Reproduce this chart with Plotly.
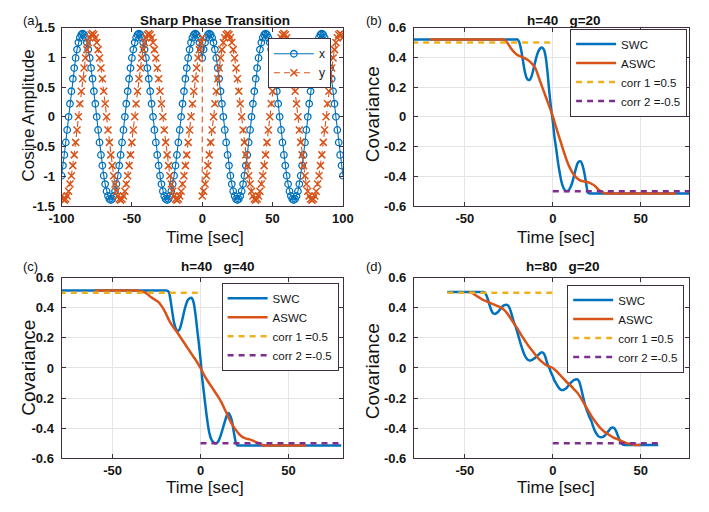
import plotly.graph_objects as go

FONT = "Liberation Sans, Arial, Helvetica, sans-serif"
AXC = "#3f2d40"
BLUE = "#0072BD"
RED = "#D95319"
YEL = "#EDB120"
PUR = "#7E2F8E"

# ---------------- Panel (a): cosine signals ----------------
t_x = list(range(-100, 101))
x_amp = [
    -0.99, -0.82, -0.64, -0.43, -0.22, 0.00, 0.22, 0.43, 0.64, 0.82, 0.99, 1.13, 1.25, 1.33, 1.38,
    1.40, 1.38, 1.33, 1.25, 1.13, 0.99, 0.82, 0.64, 0.43, 0.22, 0.00, -0.22, -0.43, -0.64, -0.82, -0.99, -1.13, -1.25, -1.33, -1.38,
    -1.40, -1.38, -1.33, -1.25, -1.13, -0.99, -0.82, -0.64, -0.43, -0.22, 0.00, 0.22, 0.43, 0.64, 0.82, 0.99, 1.13, 1.25, 1.33, 1.38,
    1.40, 1.38, 1.33, 1.25, 1.13, 0.99, 0.82, 0.64, 0.43, 0.22, 0.00, -0.22, -0.43, -0.64, -0.82, -0.99, -1.13, -1.25, -1.33, -1.38,
    -1.40, -1.38, -1.33, -1.25, -1.13, -0.99, -0.82, -0.64, -0.43, -0.22, 0.00, 0.22, 0.43, 0.64, 0.82, 0.99, 1.13, 1.25, 1.33, 1.38,
    1.40, 1.38, 1.33, 1.25, 1.13, 0.99,
    1.13, 1.25, 1.33, 1.38,
    1.40, 1.38, 1.33, 1.25, 1.13, 0.99, 0.82, 0.64, 0.43, 0.22, 0.00, -0.22, -0.43, -0.64, -0.82, -0.99, -1.13, -1.25, -1.33, -1.38,
    -1.40, -1.38, -1.33, -1.25, -1.13, -0.99, -0.82, -0.64, -0.43, -0.22, 0.00, 0.22, 0.43, 0.64, 0.82, 0.99, 1.13, 1.25, 1.33, 1.38,
    1.40, 1.38, 1.33, 1.25, 1.13, 0.99, 0.82, 0.64, 0.43, 0.22, 0.00, -0.22, -0.43, -0.64, -0.82, -0.99, -1.13, -1.25, -1.33, -1.38,
    -1.40, -1.38, -1.33, -1.25, -1.13, -0.99, -0.82, -0.64, -0.43, -0.22, 0.00, 0.22, 0.43, 0.64, 0.82, 0.99, 1.13, 1.25, 1.33, 1.38,
    1.40, 1.38, 1.33, 1.25, 1.13, 0.99, 0.82, 0.64, 0.43, 0.22, 0.00, -0.22, -0.43, -0.64, -0.82, -0.99,
]
t_y = list(range(-100, 1)) + list(range(0, 101))
y_amp = [
    -1.33, -1.38, -1.40, -1.38, -1.33, -1.25, -1.13, -0.99, -0.82, -0.64, -0.43, -0.22, 0.00, 0.22, 0.43, 0.64, 0.82, 0.99, 1.13, 1.25, 1.33, 1.38,
    1.40, 1.38, 1.33, 1.25, 1.13, 0.99, 0.82, 0.64, 0.43, 0.22, 0.00, -0.22, -0.43, -0.64, -0.82, -0.99, -1.13, -1.25, -1.33, -1.38,
    -1.40, -1.38, -1.33, -1.25, -1.13, -0.99, -0.82, -0.64, -0.43, -0.22, 0.00, 0.22, 0.43, 0.64, 0.82, 0.99, 1.13, 1.25, 1.33, 1.38,
    1.40, 1.38, 1.33, 1.25, 1.13, 0.99, 0.82, 0.64, 0.43, 0.22, 0.00, -0.22, -0.43, -0.64, -0.82, -0.99, -1.13, -1.25, -1.33, -1.38,
    -1.40, -1.38, -1.33, -1.25, -1.13, -0.99, -0.82, -0.64, -0.43, -0.22, 0.00, 0.22, 0.43, 0.64, 0.82, 0.99, 1.13, 1.25, 1.33,
    -1.33, -1.25, -1.13, -0.99, -0.82, -0.64, -0.43, -0.22, 0.00, 0.22, 0.43, 0.64, 0.82, 0.99, 1.13, 1.25, 1.33, 1.38,
    1.40, 1.38, 1.33, 1.25, 1.13, 0.99, 0.82, 0.64, 0.43, 0.22, 0.00, -0.22, -0.43, -0.64, -0.82, -0.99, -1.13, -1.25, -1.33, -1.38,
    -1.40, -1.38, -1.33, -1.25, -1.13, -0.99, -0.82, -0.64, -0.43, -0.22, 0.00, 0.22, 0.43, 0.64, 0.82, 0.99, 1.13, 1.25, 1.33, 1.38,
    1.40, 1.38, 1.33, 1.25, 1.13, 0.99, 0.82, 0.64, 0.43, 0.22, 0.00, -0.22, -0.43, -0.64, -0.82, -0.99, -1.13, -1.25, -1.33, -1.38,
    -1.40, -1.38, -1.33, -1.25, -1.13, -0.99, -0.82, -0.64, -0.43, -0.22, 0.00, 0.22, 0.43, 0.64, 0.82, 0.99, 1.13, 1.25, 1.33, 1.38,
    1.40, 1.38, 1.33,
]
assert len(t_x) == len(x_amp), (len(t_x), len(x_amp))
assert len(t_y) == len(y_amp), (len(t_y), len(y_amp))

# ---------------- Panel (b): h=40 g=20 ----------------
b_swc_t = [-80, -22] + list(range(-20, 22)) + [23, 80]
b_swc = [0.52, 0.52,
         0.52, 0.50, 0.45, 0.38, 0.31, 0.265, 0.248, 0.25, 0.275, 0.32,
         0.37, 0.415, 0.445, 0.462, 0.465, 0.45, 0.40, 0.30, 0.17, 0.06,
         -0.03, -0.14, -0.22, -0.31, -0.38, -0.44, -0.475, -0.495, -0.50, -0.495,
         -0.475, -0.445, -0.40, -0.355, -0.315, -0.30, -0.30, -0.33, -0.38, -0.45,
         -0.51, -0.515,
         -0.515, -0.515]
b_aswc_t = [-70, -30] + list(range(-28, 31, 2)) + [32, 70]
b_aswc = [0.52, 0.52,
          0.52, 0.50, 0.465, 0.435, 0.415, 0.405, 0.395, 0.38, 0.36, 0.33,
          0.265, 0.20, 0.135, 0.07, 0.005, -0.075, -0.15, -0.225, -0.295, -0.35,
          -0.39, -0.415, -0.43, -0.435, -0.44, -0.45, -0.465, -0.49, -0.505, -0.515,
          -0.515, -0.515]

# ---------------- Panel (c): h=40 g=40 ----------------
c_swc_t = [-80, -21] + list(range(-19, 22)) + [23, 80]
c_swc = [0.515, 0.515,
         0.515, 0.505, 0.45, 0.37, 0.30, 0.26, 0.245, 0.255, 0.29, 0.34,
         0.39, 0.43, 0.455, 0.465, 0.467, 0.44, 0.37, 0.27, 0.17, 0.06,
         -0.07, -0.17, -0.27, -0.36, -0.43, -0.47, -0.49, -0.50, -0.50, -0.49,
         -0.465, -0.43, -0.39, -0.35, -0.315, -0.30, -0.32, -0.36, -0.43, -0.49,
         -0.515,
         -0.515, -0.515]
c_aswc_t = [-60] + list(range(-38, 39, 2)) + [60]
c_aswc = [0.515,
          0.515, 0.515, 0.51, 0.505, 0.49, 0.47, 0.455, 0.44, 0.41, 0.37,
          0.32, 0.28, 0.25, 0.215, 0.18, 0.145, 0.11, 0.075, 0.04, 0.0,
          -0.045, -0.085, -0.12, -0.155, -0.19, -0.23, -0.28, -0.33, -0.375, -0.41,
          -0.44, -0.46, -0.47, -0.475, -0.485, -0.495, -0.505, -0.515, -0.515,
          -0.515]

# ---------------- Panel (d): h=80 g=20 ----------------
d_swc_t = [-60, -41] + list(range(-39, 42)) + [43, 60]
d_swc = [0.505, 0.505,
         0.505, 0.49, 0.46, 0.42, 0.385, 0.365, 0.36, 0.365, 0.375, 0.39,
         0.405, 0.415, 0.42, 0.42, 0.41, 0.38, 0.34, 0.30, 0.27, 0.23,
         0.19, 0.15, 0.115, 0.085, 0.065, 0.053, 0.05, 0.052, 0.06, 0.068,
         0.08, 0.09, 0.10, 0.104, 0.095, 0.065, 0.025, 0.0, -0.03, -0.055,
         -0.085, -0.105, -0.125, -0.14, -0.146, -0.146, -0.14, -0.13, -0.115, -0.10,
         -0.09, -0.08, -0.076, -0.076, -0.09, -0.13, -0.18, -0.23, -0.27, -0.30,
         -0.33, -0.355, -0.39, -0.42, -0.44, -0.455, -0.46, -0.46, -0.455, -0.445,
         -0.43, -0.415, -0.40, -0.396, -0.40, -0.42, -0.45, -0.48, -0.50, -0.51,
         -0.512,
         -0.512, -0.512]
d_aswc_t = list(range(-48, 51, 2))
d_aswc = [0.505, 0.50, 0.485, 0.47, 0.455, 0.445, 0.435, 0.425, 0.415, 0.405,
          0.39, 0.365, 0.33, 0.295, 0.26, 0.22, 0.185, 0.15, 0.12, 0.09,
          0.06, 0.04, 0.02, 0.01, 0.0,
          -0.02, -0.045, -0.07, -0.095, -0.115, -0.14, -0.165, -0.20, -0.24, -0.28,
          -0.32, -0.355, -0.385, -0.41, -0.43, -0.445, -0.46, -0.47, -0.48, -0.49,
          -0.50, -0.505, -0.51, -0.512, -0.512]

for a, b in [(b_swc_t, b_swc), (b_aswc_t, b_aswc), (c_swc_t, c_swc), (c_aswc_t, c_aswc),
             (d_swc_t, d_swc), (d_aswc_t, d_aswc)]:
    assert len(a) == len(b), (len(a), len(b))

# reference correlation levels
corr1_val = [0.5, 0.5]
corr2_val = [-0.5, -0.5]
bc_corr1_t = [-80, 0]
bc_corr2_t = [0, 80]
d_corr1_t = [-60, 0]
d_corr2_t = [0, 60]

# ticks
a_xticks = [-100, -50, 0, 50, 100]
a_xtext = ["-100", "-50", "0", "50", "100"]
a_yticks = [-1.5, -1, -0.5, 0, 0.5, 1, 1.5]
a_ytext = ["-1.5", "-1", "-0.5", "0", "0.5", "1", "1.5"]
cov_xticks = [-50, 0, 50]
cov_xtext = ["-50", "0", "50"]
cov_yticks = [-0.6, -0.4, -0.2, 0, 0.2, 0.4, 0.6]
cov_ytext = ["-0.6", "-0.4", "-0.2", "0", "0.2", "0.4", "0.6"]

# The page body keeps an 8px margin, so the figure is 16px smaller than the window
# and every window pixel position is shifted by 8px.
FW, FH = 693, 496
OFF = 8


def PX(p):
    return (p - OFF) / FW


def PY(p):
    return 1 - (p - OFF) / FH


fig = go.Figure()

# panel (a)
fig.add_trace(go.Scatter(x=t_x, y=x_amp, name="x", mode="lines+markers",
                         line=dict(color=BLUE, width=1.1),
                         marker=dict(symbol="circle-open", size=6.5, color=BLUE, line=dict(width=1.3)),
                         xaxis="x", yaxis="y", legend="legend"))
fig.add_trace(go.Scatter(x=t_y, y=y_amp, name="y", mode="lines+markers",
                         line=dict(color=RED, width=1.1, dash="6px,4px"),
                         marker=dict(symbol="x-thin-open", size=7, color=RED, line=dict(width=1.5, color=RED)),
                         xaxis="x", yaxis="y", legend="legend"))


def cov_panel(xa, ya, lg, swc_t, swc, aswc_t, aswc, c1_t, c2_t):
    fig.add_trace(go.Scatter(x=swc_t, y=swc, name="SWC", mode="lines",
                             line=dict(color=BLUE, width=2.5, shape="spline", smoothing=0.8),
                             xaxis=xa, yaxis=ya, legend=lg))
    fig.add_trace(go.Scatter(x=aswc_t, y=aswc, name="ASWC", mode="lines",
                             line=dict(color=RED, width=2.5, shape="spline", smoothing=0.8),
                             xaxis=xa, yaxis=ya, legend=lg))
    fig.add_trace(go.Scatter(x=c1_t, y=corr1_val, name="corr 1 =0.5", mode="lines",
                             line=dict(color=YEL, width=2.5, dash="6px,5px"),
                             xaxis=xa, yaxis=ya, legend=lg))
    fig.add_trace(go.Scatter(x=c2_t, y=corr2_val, name="corr 2 =-0.5", mode="lines",
                             line=dict(color=PUR, width=2.5, dash="6px,5px"),
                             xaxis=xa, yaxis=ya, legend=lg))


cov_panel("x2", "y2", "legend2", b_swc_t, b_swc, b_aswc_t, b_aswc, bc_corr1_t, bc_corr2_t)
cov_panel("x3", "y3", "legend3", c_swc_t, c_swc, c_aswc_t, c_aswc, bc_corr1_t, bc_corr2_t)
cov_panel("x4", "y4", "legend4", d_swc_t, d_swc, d_aswc_t, d_aswc, d_corr1_t, d_corr2_t)

top_dom = [PY(205), PY(21)]
bot_dom = [PY(465), PY(279)]
left_dom = [PX(50), PX(341.5)]
right_dom = [PX(415), 692 / FW]


def axis(domain, rng, tv, tt, grid, anchor, standoff):
    return dict(domain=domain, range=rng, tickvals=tv, ticktext=tt, showgrid=grid,
                gridcolor="#e4e4e4", gridwidth=1, zeroline=False, showline=True,
                linecolor=AXC, linewidth=1, mirror="ticks", ticks="inside", ticklen=4,
                tickcolor=AXC, tickwidth=1, anchor=anchor, fixedrange=True,
                ticklabelstandoff=standoff,
                tickfont=dict(family=FONT, size=13, color="#151515", weight="bold"))


LR = [-79, 81]
RR = [-79, 77.5]
CY = [-0.6, 0.6]
fig.update_layout(
    width=FW, height=FH, autosize=False,
    margin=dict(l=0, r=0, t=0, b=0),
    paper_bgcolor="white", plot_bgcolor="white",
    font=dict(family=FONT, color="#151515"),
    xaxis=axis(left_dom, [-100, 100], a_xticks, a_xtext, False, "y", 0),
    yaxis=axis(top_dom, [-1.5, 1.5], a_yticks, a_ytext, False, "x", 3),
    xaxis2=axis(right_dom, RR, cov_xticks, cov_xtext, True, "y2", 0),
    yaxis2=axis(top_dom, CY, cov_yticks, cov_ytext, True, "x2", 4),
    xaxis3=axis(left_dom, LR, cov_xticks, cov_xtext, True, "y3", 0),
    yaxis3=axis(bot_dom, CY, cov_yticks, cov_ytext, True, "x3", 4),
    xaxis4=axis(right_dom, RR, cov_xticks, cov_xtext, True, "y4", 0),
    yaxis4=axis(bot_dom, CY, cov_yticks, cov_ytext, True, "x4", 4),
    showlegend=True,
)

leg_common = dict(xanchor="right", yanchor="top", bgcolor="white", bordercolor=AXC,
                  borderwidth=1, itemwidth=40, tracegroupgap=0,
                  font=dict(family=FONT, size=11.5, color="#151515"))
fig.update_layout(
    legend=dict(x=PX(329), y=PY(32), **{**leg_common, "font": dict(family=FONT, size=12, color="#151515")}),
    legend2=dict(x=PX(698), y=PY(22), **leg_common),
    legend3=dict(x=PX(337), y=PY(284), **leg_common),
    legend4=dict(x=PX(695), y=PY(286), **leg_common),
)

ann = []


def txt(x, y, s, size, bold=False, angle=0, xanchor="center"):
    ann.append(dict(x=PX(x), y=PY(y), xref="paper", yref="paper", text=s, showarrow=False,
                    textangle=angle, xanchor=xanchor, yanchor="middle",
                    font=dict(family=FONT, size=size, color="#111111", weight="bold" if bold else "normal")))


# panel letters
txt(8, 13.5, "(a)", 13, xanchor="left")
txt(363, 13.5, "(b)", 13, xanchor="left")
txt(8, 267, "(c)", 13, xanchor="left")
txt(363, 267, "(d)", 13, xanchor="left")
# titles
sp = "\u00a0\u00a0\u00a0"
txt(209, 14, "Sharp Phase Transition", 13.5, bold=True)
txt(570, 14, "h=40" + sp + "g=20", 13.5, bold=True)
txt(212, 267, "h=40" + sp + "g=40", 13.5, bold=True)
txt(569, 267, "h=80" + sp + "g=20", 13.5, bold=True)
# axis titles
txt(199, 237, "Time [sec]", 17)
txt(562, 237, "Time [sec]", 17)
txt(199, 495, "Time [sec]", 17)
txt(562, 495, "Time [sec]", 17)
txt(16, 112, "Cosine Amplitude", 17, angle=-90)
txt(373, 110, "Covariance", 19, angle=-90)
txt(16, 372, "Covariance", 19, angle=-90)
txt(373, 375, "Covariance", 19, angle=-90)
fig.update_layout(annotations=ann)

fig.write_html("out.html", config={"displayModeBar": False})
